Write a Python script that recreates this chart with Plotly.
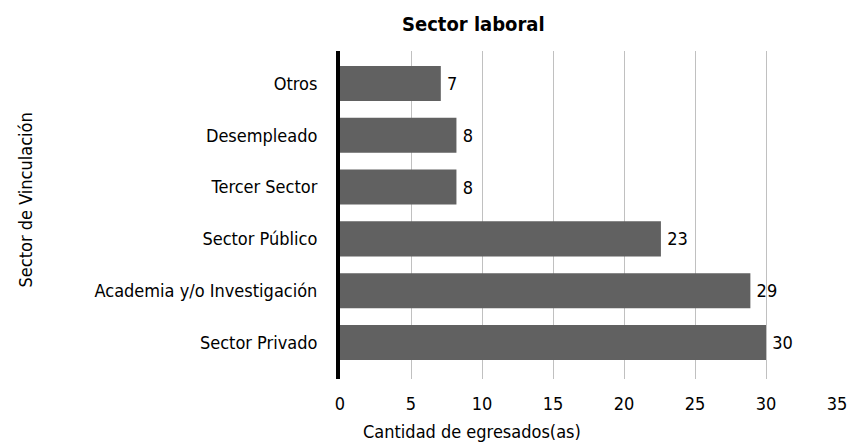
import plotly.graph_objects as go

categories = ["Sector Privado", "Academia y/o Investigación", "Sector Público",
              "Tercer Sector", "Desempleado", "Otros"]
values = [30, 28.9, 22.6, 8.2, 8.2, 7.1]
x_ticks = [0, 5, 10, 15, 20, 25, 30, 35]

FONT = "Liberation Sans Narrow, DejaVu Sans Condensed, Arial Narrow, sans-serif"

fig = go.Figure(go.Bar(
    x=values, y=categories, orientation="h",
    marker=dict(color="#616161", line=dict(width=0)),
    text=values, texttemplate="\u2009%{x:.0f}", textposition="outside",
    textfont=dict(family=FONT, size=18, color="#000000"),
    cliponaxis=False,
))

W, H = 859, 444
L, R, T, B = 340, 15, 51, 65

fig.update_layout(
    width=W, height=H,
    margin=dict(l=L, r=R, t=T, b=B),
    paper_bgcolor="white", plot_bgcolor="white",
    bargap=0.324,
    showlegend=False,
    font=dict(family=FONT, size=18, color="#000000"),
    xaxis=dict(range=[0, 35], tickvals=x_ticks, showgrid=True,
               gridcolor="#c0c0c0", gridwidth=1, zeroline=False,
               showline=False, ticks="", tickfont=dict(size=18),
               ticklabelstandoff=12, fixedrange=True),
    yaxis=dict(showline=True, linecolor="#000000", linewidth=4,
               range=[-0.705, 5.627],
               showgrid=False, ticks="", ticklabelstandoff=15,
               tickfont=dict(size=18), zeroline=False, fixedrange=True),
    annotations=[
        dict(text="<b>Sector laboral</b>", xref="paper", yref="paper",
             x=(475 - L) / (W - L - R), y=1 + (T - 24) / (H - T - B),
             xanchor="center", yanchor="middle", showarrow=False,
             font=dict(family=FONT, size=20, color="#000000")),
        dict(text="Cantidad de egresados(as)", xref="paper", yref="paper",
             x=(474 - L) / (W - L - R), y=-(431 - (H - B)) / (H - T - B),
             xanchor="center", yanchor="middle", showarrow=False,
             font=dict(family=FONT, size=18, color="#000000")),
        dict(text="Sector de Vinculación", xref="paper", yref="paper",
             x=-(L - 21) / (W - L - R), y=((H - B) - 200) / (H - T - B),
             xanchor="center", yanchor="middle", showarrow=False, textangle=-90,
             font=dict(family=FONT, size=18, color="#000000")),
    ],
)

fig.write_html("out.html", config={"displayModeBar": False},
               post_script="document.body.style.margin='0';document.body.style.overflow='hidden';")
